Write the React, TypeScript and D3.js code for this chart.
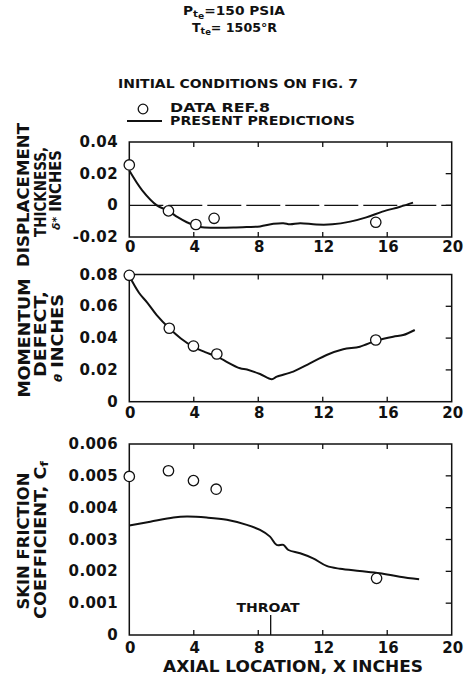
import React from "react";
import * as d3 from "d3";

// Axial location of the measurements and of the prediction curves (inches)
const xTicks = [0, 4, 8, 12, 16, 20];

// Displacement thickness, delta* (inches)
const deltaDataX = [0, 2.43, 4.13, 5.26, 15.29];
const deltaDataY = [0.0255, -0.0035, -0.0121, -0.0082, -0.0107];
const deltaPredX = [0, 0.8, 1.71, 2.43, 3.0, 3.57, 4.4, 5.4, 6.46, 7.3, 8.11, 8.94, 9.56, 9.97, 10.6, 11.6, 12.6, 13.7, 14.7, 15.7, 16.8, 17.6];
const deltaPredY = [0.022, 0.0095, 0.0, -0.0035, -0.0075, -0.0107, -0.0137, -0.0141, -0.014, -0.0137, -0.0133, -0.0117, -0.0113, -0.012, -0.0113, -0.0121, -0.012, -0.0103, -0.0076, -0.004, -0.0009, 0.0017];
const deltaTicks = [-0.02, 0, 0.02, 0.04];
const deltaTickLabels = ["-0.02", "0", "0.02", "0.04"];

// Momentum defect, theta (inches)
const thetaDataX = [0, 2.48, 3.98, 5.43, 15.29];
const thetaDataY = [0.0795, 0.0462, 0.035, 0.030, 0.0388];
const thetaPredX = [0, 0.6, 1.1, 1.7, 2.48, 3.2, 3.98, 4.7, 5.43, 6.87, 7.3, 8.11, 8.84, 9.15, 10.17, 11.2, 12.24, 13.27, 14.3, 15.34, 16.37, 16.99, 17.71];
const thetaPredY = [0.079, 0.0685, 0.0625, 0.0545, 0.0462, 0.0398, 0.0345, 0.0312, 0.0283, 0.021, 0.0203, 0.0174, 0.0141, 0.0158, 0.0189, 0.0241, 0.0294, 0.033, 0.0346, 0.0385, 0.0409, 0.0419, 0.0451];
const thetaTicks = [0, 0.02, 0.04, 0.06, 0.08];
const thetaTickLabels = ["0", "0.02", "0.04", "0.06", "0.08"];

// Skin friction coefficient, Cf
const cfDataX = [0, 2.43, 3.98, 5.39, 15.34];
const cfDataY = [0.00498, 0.00516, 0.00485, 0.00458, 0.00178];
const cfPredX = [0, 1.3, 2.74, 3.57, 4.8, 6.05, 7.29, 8.11, 8.73, 9.14, 9.56, 9.87, 10.6, 11.4, 12.24, 13.07, 14.3, 15.54, 16.78, 17.98];
const cfPredY = [0.00344, 0.00356, 0.00369, 0.00372, 0.00369, 0.00362, 0.00346, 0.0033, 0.00309, 0.00283, 0.00283, 0.00267, 0.00257, 0.00241, 0.00217, 0.00208, 0.00201, 0.00194, 0.00183, 0.00175];
const cfTicks = [0, 0.001, 0.002, 0.003, 0.004, 0.005, 0.006];
const cfTickLabels = ["0", "0.001", "0.002", "0.003", "0.004", "0.005", "0.006"];

const throatX = 8.77;

const FONT = "'DejaVu Sans', Verdana, sans-serif";
const INK = "#111";

const x = d3.scaleLinear().domain([0, 20]).range([129.3, 451.7]);

type PanelProps = {
  y: d3.ScaleLinear<number, number>;
  ticks: number[];
  tickLabels: string[];
  dataX: number[];
  dataY: number[];
  predX: number[];
  predY: number[];
  tickLabelY: number;
  children?: React.ReactNode;
};

function Panel({ y, ticks, tickLabels, dataX, dataY, predX, predY, tickLabelY, children }: PanelProps) {
  const [y0, y1] = y.range();
  const top = Math.min(y0, y1);
  const bottom = Math.max(y0, y1);
  const left = x.range()[0];
  const right = x.range()[1];
  const line = d3
    .line<number>()
    .x((_, i) => x(predX[i]))
    .y((d) => y(d))
    .curve(d3.curveCatmullRom.alpha(0.5));
  const inner = xTicks.filter((t) => t > 0 && t < 20);
  return (
    <g>
      {children}
      <rect x={left} y={top} width={right - left} height={bottom - top} fill="none" stroke={INK} strokeWidth={1.5} />
      {inner.map((t) => (
        <g key={"xt" + t}>
          <line x1={x(t)} x2={x(t)} y1={top} y2={top + 5} stroke={INK} strokeWidth={1.3} />
          <line x1={x(t)} x2={x(t)} y1={bottom} y2={bottom - 5} stroke={INK} strokeWidth={1.3} />
        </g>
      ))}
      {ticks.slice(1, -1).map((t) => (
        <line key={"yt" + t} x1={right} x2={right - 6} y1={y(t)} y2={y(t)} stroke={INK} strokeWidth={1.3} />
      ))}
      {xTicks.map((t) => (
        <text key={"xl" + t} x={x(t) + 1} y={tickLabelY} textAnchor="middle" dominantBaseline="central"
          fontFamily={FONT} fontWeight="bold" fontSize={15} fill={INK}>
          {t}
        </text>
      ))}
      {ticks.map((t, i) => (
        <text key={"yl" + t} x={118} y={y(t)} textAnchor="end" dominantBaseline="central"
          fontFamily={FONT} fontWeight="bold" fontSize={15} letterSpacing={0.4} fill={INK}>
          {tickLabels[i]}
        </text>
      ))}
      <path d={line(predY) ?? ""} fill="none" stroke={INK} strokeWidth={2} strokeLinejoin="round" />
      {dataX.map((d, i) => (
        <circle key={"pt" + i} cx={x(d)} cy={y(dataY[i])} r={5.2} fill="#fff" stroke={INK} strokeWidth={1.3} />
      ))}
    </g>
  );
}

function VLabel({ cx, cy, len, children }: { cx: number; cy: number; len?: number; children: React.ReactNode }) {
  return (
    <text transform={`translate(${cx},${cy}) rotate(-90)`} textAnchor="middle" dominantBaseline="central"
      fontFamily={FONT} fontWeight="bold" fontSize={15} fill={INK}
      textLength={len} lengthAdjust={len ? "spacingAndGlyphs" : undefined}>
      {children}
    </text>
  );
}

export default function App() {
  const yDelta = d3.scaleLinear().domain([-0.02, 0.04]).range([237, 142]);
  const yTheta = d3.scaleLinear().domain([0, 0.08]).range([401.7, 274.5]);
  const yCf = d3.scaleLinear().domain([0, 0.006]).range([635, 444]);

  return (
    <svg width={465} height={678} style={{ position: "absolute", left: 0, top: 0, background: "#fff" }}>
      <rect width={465} height={678} fill="#fff" />

      {/* Entry conditions */}
      <text x={183} y={15} fontFamily={FONT} fontWeight="bold" fontSize={12} fill={INK}
        textLength={102} lengthAdjust="spacingAndGlyphs">
        P<tspan dy={2} fontSize={9}>t</tspan><tspan dy={1.5} fontSize={8}>e</tspan>
        <tspan dy={-3.5} fontSize={12}>=150 PSIA</tspan>
      </text>
      <text x={192} y={31.5} fontFamily={FONT} fontWeight="bold" fontSize={12} fill={INK}
        textLength={85} lengthAdjust="spacingAndGlyphs">
        T<tspan dy={2} fontSize={9}>t</tspan><tspan dy={1.5} fontSize={8}>e</tspan>
        <tspan dy={-3.5} fontSize={12}>= 1505°R</tspan>
      </text>

      <text x={118} y={88} fontFamily={FONT} fontWeight="bold" fontSize={12} fill={INK}
        textLength={240} lengthAdjust="spacingAndGlyphs">
        INITIAL CONDITIONS ON FIG. 7
      </text>

      {/* Legend */}
      <circle cx={143} cy={109} r={4.8} fill="#fff" stroke={INK} strokeWidth={1.3} />
      <text x={170} y={112} fontFamily={FONT} fontWeight="bold" fontSize={11.5} fill={INK}
        textLength={100} lengthAdjust="spacingAndGlyphs">
        DATA  REF.8
      </text>
      <line x1={127} x2={162} y1={121} y2={121} stroke={INK} strokeWidth={2} />
      <text x={170} y={124.5} fontFamily={FONT} fontWeight="bold" fontSize={11.5} fill={INK}
        textLength={185} lengthAdjust="spacingAndGlyphs">
        PRESENT PREDICTIONS
      </text>

      {/* Displacement thickness */}
      <Panel y={yDelta} ticks={deltaTicks} tickLabels={deltaTickLabels}
        dataX={deltaDataX} dataY={deltaDataY} predX={deltaPredX} predY={deltaPredY} tickLabelY={247}>
        <line x1={x(0)} x2={x(20)} y1={yDelta(0)} y2={yDelta(0)} stroke={INK} strokeWidth={1.2} strokeDasharray="34 5" />
      </Panel>
      <VLabel cx={24} cy={195} len={144}>DISPLACEMENT</VLabel>
      <VLabel cx={41} cy={192} len={90}>THICKNESS,</VLabel>
      <text transform="translate(56,190) rotate(-90)" textAnchor="middle" dominantBaseline="central"
        fontFamily={FONT} fontWeight="bold" fontSize={15} fill={INK} textLength={80} lengthAdjust="spacingAndGlyphs">
        <tspan fontSize={11} fontStyle="italic">δ*</tspan> INCHES
      </text>

      {/* Momentum defect */}
      <Panel y={yTheta} ticks={thetaTicks} tickLabels={thetaTickLabels}
        dataX={thetaDataX} dataY={thetaDataY} predX={thetaPredX} predY={thetaPredY} tickLabelY={413} />
      <VLabel cx={25} cy={338} len={119}>MOMENTUM</VLabel>
      <VLabel cx={41} cy={334} len={86}>DEFECT,</VLabel>
      <text transform="translate(58,338) rotate(-90)" textAnchor="middle" dominantBaseline="central"
        fontFamily={FONT} fontWeight="bold" fontSize={15} fill={INK} textLength={88} lengthAdjust="spacingAndGlyphs">
        <tspan fontSize={10} fontStyle="italic">θ</tspan> INCHES
      </text>

      {/* Skin friction coefficient */}
      <Panel y={yCf} ticks={cfTicks} tickLabels={cfTickLabels}
        dataX={cfDataX} dataY={cfDataY} predX={cfPredX} predY={cfPredY} tickLabelY={648}>
        <line x1={x(throatX)} x2={x(throatX)} y1={615} y2={yCf(0)} stroke={INK} strokeWidth={1.3} />
        <text x={268} y={608} textAnchor="middle" dominantBaseline="central" fontFamily={FONT}
          fontWeight="bold" fontSize={12} fill={INK} textLength={63} lengthAdjust="spacingAndGlyphs">
          THROAT
        </text>
      </Panel>
      <VLabel cx={24} cy={541} len={137}>SKIN FRICTION</VLabel>
      <text transform="translate(41,540) rotate(-90)" textAnchor="middle" dominantBaseline="central"
        fontFamily={FONT} fontWeight="bold" fontSize={15} fill={INK} textLength={158} lengthAdjust="spacingAndGlyphs">
        COEFFICIENT, C<tspan fontSize={11} dy={3}>f</tspan>
      </text>

      <text x={293} y={667} textAnchor="middle" dominantBaseline="central" fontFamily={FONT}
        fontWeight="bold" fontSize={15} fill={INK} textLength={260} lengthAdjust="spacingAndGlyphs">
        AXIAL LOCATION, X INCHES
      </text>
    </svg>
  );
}
